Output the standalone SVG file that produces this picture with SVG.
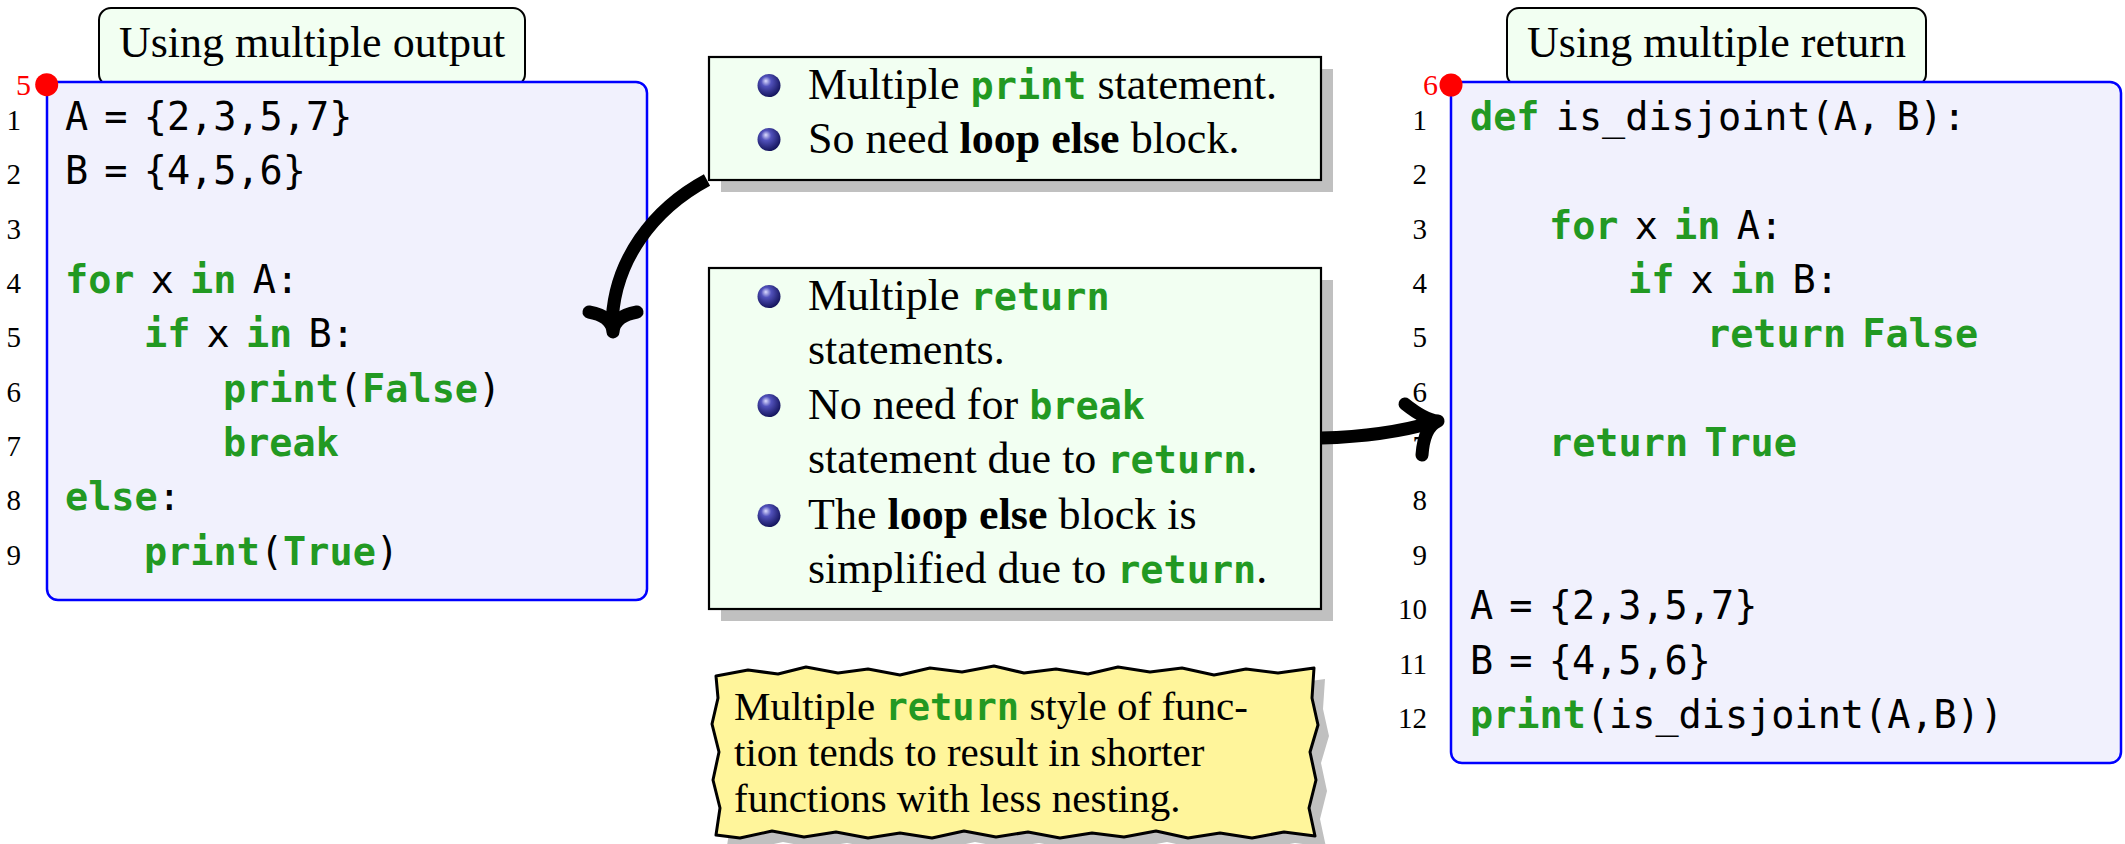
<svg xmlns="http://www.w3.org/2000/svg" width="2125" height="844" viewBox="0 0 2125 844">
  <style>
    .serif { font-family: "Liberation Serif", "Times New Roman", serif; fill: #000; }
    .ttl { font-size: 44px; text-anchor: middle; }
    .bt { font-size: 44px; }
    .nt { font-size: 41px; }
    .mono { font-family: "DejaVu Sans Mono", monospace; font-size: 38.5px; word-spacing: -7px; fill: #000; }
    .kw { font-family: "DejaVu Sans Mono", monospace; font-weight: bold; fill: #229922; }
    .ln { font-family: "Liberation Serif", "Times New Roman", serif; font-size: 29px; text-anchor: end; fill: #000; }
    .mark { font-family: "Liberation Serif", "Times New Roman", serif; font-size: 30px; text-anchor: end; fill: #ff0000; }
    .titlebox { fill: #f2fff2; stroke: #000; stroke-width: 2; }
    .codebox { fill: #f1f1fd; stroke: #0000ff; stroke-width: 2.5; }
    .notebox { fill: #f2fff2; stroke: #000; stroke-width: 2.2; }
    .shadow { fill: #c0c0c0; }
    .wire { fill: none; stroke: #000; stroke-width: 13; }
    .head { fill: none; stroke: #000; stroke-width: 13; stroke-linecap: round; stroke-linejoin: round; }
  </style>
  <defs>
    <radialGradient id="ball" cx="0.42" cy="0.38" r="0.62" fx="0.36" fy="0.3">
      <stop offset="0" stop-color="#dcdcff"/>
      <stop offset="0.35" stop-color="#5252bc"/>
      <stop offset="1" stop-color="#15155e"/>
    </radialGradient>
  </defs>

  <!-- left listing: loop with else -->
  <g id="title-left">
    <rect class="titlebox" x="99" y="8" width="426" height="78" rx="12"/>
    <text class="serif ttl" x="312" y="57">Using multiple output</text>
  </g>
  <g id="code-left">
    <rect class="codebox" x="47" y="82" width="600" height="518" rx="11"/>
    <circle cx="46.7" cy="84.7" r="11.5" fill="#ff0000"/>
    <text class="mark" x="31" y="95">5</text>
    <text class="ln" x="21" y="130">1</text>
    <text class="ln" x="21" y="184.35">2</text>
    <text class="ln" x="21" y="238.7">3</text>
    <text class="ln" x="21" y="293.05">4</text>
    <text class="ln" x="21" y="347.4">5</text>
    <text class="ln" x="21" y="401.75">6</text>
    <text class="ln" x="21" y="456.1">7</text>
    <text class="ln" x="21" y="510.45">8</text>
    <text class="ln" x="21" y="564.8">9</text>
    <text class="mono" x="65" y="130">A = {2,3,5,7}</text>
    <text class="mono" x="65" y="184.35">B = {4,5,6}</text>
    <text class="mono" x="65" y="293.05"><tspan class="kw">for</tspan> x <tspan class="kw">in</tspan> A:</text>
    <text class="mono" x="144" y="347.4"><tspan class="kw">if</tspan> x <tspan class="kw">in</tspan> B:</text>
    <text class="mono" x="223" y="401.75"><tspan class="kw">print</tspan>(<tspan class="kw">False</tspan>)</text>
    <text class="mono" x="223" y="456.1"><tspan class="kw">break</tspan></text>
    <text class="mono" x="65" y="510.45"><tspan class="kw">else</tspan>:</text>
    <text class="mono" x="144" y="564.8"><tspan class="kw">print</tspan>(<tspan class="kw">True</tspan>)</text>
  </g>

  <!-- right listing: function with early return -->
  <g id="title-right">
    <rect class="titlebox" x="1507" y="8" width="419" height="78" rx="12"/>
    <text class="serif ttl" x="1716.5" y="57">Using multiple return</text>
  </g>
  <g id="code-right">
    <rect class="codebox" x="1451" y="82" width="670" height="681" rx="11"/>
    <circle cx="1451" cy="85" r="11.5" fill="#ff0000"/>
    <text class="mark" x="1438" y="95">6</text>
    <text class="ln" x="1427" y="130">1</text>
    <text class="ln" x="1427" y="184.35">2</text>
    <text class="ln" x="1427" y="238.7">3</text>
    <text class="ln" x="1427" y="293.05">4</text>
    <text class="ln" x="1427" y="347.4">5</text>
    <text class="ln" x="1427" y="401.75">6</text>
    <text class="ln" x="1427" y="456.1">7</text>
    <text class="ln" x="1427" y="510.45">8</text>
    <text class="ln" x="1427" y="564.8">9</text>
    <text class="ln" x="1427" y="619.15">10</text>
    <text class="ln" x="1427" y="673.5">11</text>
    <text class="ln" x="1427" y="727.85">12</text>
    <text class="mono" x="1470" y="130"><tspan class="kw">def</tspan> is_disjoint(A, B):</text>
    <text class="mono" x="1549" y="238.7"><tspan class="kw">for</tspan> x <tspan class="kw">in</tspan> A:</text>
    <text class="mono" x="1628" y="293.05"><tspan class="kw">if</tspan> x <tspan class="kw">in</tspan> B:</text>
    <text class="mono" x="1707" y="347.4"><tspan class="kw">return</tspan> <tspan class="kw">False</tspan></text>
    <text class="mono" x="1549" y="456.1"><tspan class="kw">return</tspan> <tspan class="kw">True</tspan></text>
    <text class="mono" x="1470" y="619.15">A = {2,3,5,7}</text>
    <text class="mono" x="1470" y="673.5">B = {4,5,6}</text>
    <text class="mono" x="1470" y="727.85"><tspan class="kw">print</tspan>(is_disjoint(A,B))</text>
  </g>

  <!-- note: early return -->
  <g id="note-return">
    <rect class="shadow" x="721" y="280" width="612" height="341"/>
    <rect class="notebox" x="709" y="268" width="612" height="341"/>
    <circle cx="769" cy="296.5" r="11.5" fill="url(#ball)"/>
    <circle cx="769" cy="405.5" r="11.5" fill="url(#ball)"/>
    <circle cx="769" cy="515.5" r="11.5" fill="url(#ball)"/>
    <text class="serif bt" x="808" y="310">Multiple <tspan class="kw" font-size="38.5">return</tspan></text>
    <text class="serif bt" x="808" y="364">statements.</text>
    <text class="serif bt" x="808" y="419">No need for <tspan class="kw" font-size="38.5">break</tspan></text>
    <text class="serif bt" x="808" y="473">statement due to <tspan class="kw" font-size="38.5">return</tspan>.</text>
    <text class="serif bt" x="808" y="529">The <tspan font-weight="bold">loop else</tspan> block is</text>
    <text class="serif bt" x="808" y="583">simplified due to <tspan class="kw" font-size="38.5">return</tspan>.</text>
  </g>

  <!-- connectors -->
  <g id="connectors">
    <path class="wire" d="M 707,180 C 655,208 612,260 612,328"/>
    <path class="head" d="M 589,312 Q 612,316 613,332 Q 614,316 637,312"/>
    <path class="wire" d="M 1321,438 C 1360,437 1400,432 1434,422"/>
    <path class="head" d="M 1405,404 Q 1425,420 1438,421 Q 1424,427 1422,455"/>
  </g>

  <!-- note: multiple print -->
  <g id="note-print">
    <rect class="shadow" x="721" y="69" width="612" height="123"/>
    <rect class="notebox" x="709" y="57" width="612" height="123"/>
    <circle cx="769" cy="85.5" r="11.5" fill="url(#ball)"/>
    <circle cx="769" cy="139.5" r="11.5" fill="url(#ball)"/>
    <text class="serif bt" x="808" y="99">Multiple <tspan class="kw" font-size="38.5">print</tspan> statement.</text>
    <text class="serif bt" x="808" y="153">So need <tspan font-weight="bold">loop else</tspan> block.</text>
  </g>

  <!-- jagged remark box -->
  <g id="remark">
    <path class="shadow" transform="translate(11,11)" d="M 716,676 L 748,670 778,674 806,667 838,673 868,669 900,675 930,668 962,672 994,666 1024,673 1056,669 1088,674 1118,667 1150,672 1182,668 1214,675 1246,669 1278,673 1314,668 1312,698 1318,725 1310,752 1316,780 1309,808 1315,836 1284,832 1252,838 1220,833 1188,838 1156,831 1124,837 1092,833 1060,838 1028,832 996,837 964,831 932,838 900,833 868,838 836,832 804,837 772,831 740,838 716,835 720,808 713,780 719,752 712,724 718,698 Z"/>
    <path fill="#fff59b" stroke="#000" stroke-width="3" stroke-linejoin="round" d="M 716,676 L 748,670 778,674 806,667 838,673 868,669 900,675 930,668 962,672 994,666 1024,673 1056,669 1088,674 1118,667 1150,672 1182,668 1214,675 1246,669 1278,673 1314,668 1312,698 1318,725 1310,752 1316,780 1309,808 1315,836 1284,832 1252,838 1220,833 1188,838 1156,831 1124,837 1092,833 1060,838 1028,832 996,837 964,831 932,838 900,833 868,838 836,832 804,837 772,831 740,838 716,835 720,808 713,780 719,752 712,724 718,698 Z"/>
    <text class="serif nt" x="734" y="720">Multiple <tspan class="kw" font-size="37">return</tspan> style of func-</text>
    <text class="serif nt" x="734" y="766">tion tends to result in shorter</text>
    <text class="serif nt" x="734" y="812">functions with less nesting.</text>
  </g>
</svg>
